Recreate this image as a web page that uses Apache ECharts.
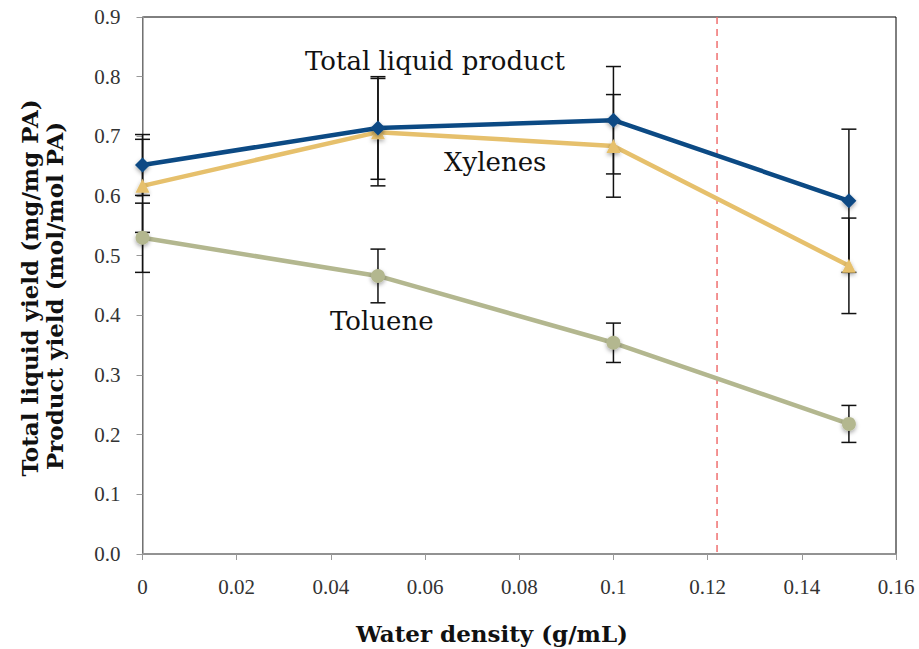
<!DOCTYPE html>
<html><head><meta charset="utf-8">
<script src="https://cdn.jsdelivr.net/npm/echarts@6/dist/echarts.min.js"></script>
<style>html,body{margin:0;padding:0;background:#fff}#c{width:919px;height:649px}</style>
</head><body><div id="c"></div>
<script>
const xValues = [0, 0.05, 0.1, 0.15];
const totalLiquid = [0.652, 0.714, 0.727, 0.592];
const totalLiquidErr = [0.051, 0.086, 0.090, 0.120];
const xylenes = [0.617, 0.707, 0.684, 0.483];
const xylenesErr = [0.078, 0.090, 0.086, 0.080];
const toluene = [0.530, 0.466, 0.354, 0.218];
const tolueneErr = [0.058, 0.045, 0.033, 0.031];
const criticalDensity = [0.122];
const xTicks = {min: 0, max: 0.16, step: 0.02};
const yTicks = {min: 0, max: 0.9, step: 0.1};

const tickFont = 'Liberation Serif';
const textFont = 'DejaVu Serif';
const chart = echarts.init(document.getElementById('c'), null, {renderer: 'svg'});

function pairs(ys) { return xValues.map((x, i) => [x, ys[i]]); }
function errData(ys, es) { return xValues.map((x, i) => [x, ys[i] - es[i], ys[i] + es[i]]); }
function errSeries(ys, es) {
  return {
    type: 'custom', z: 1, silent: true,
    data: errData(ys, es),
    renderItem: function (params, api) {
      const lo = api.coord([api.value(0), api.value(1)]);
      const hi = api.coord([api.value(0), api.value(2)]);
      const w = 7.5;
      const st = {stroke: '#111', lineWidth: 1.5};
      return {type: 'group', children: [
        {type: 'line', shape: {x1: lo[0], y1: lo[1], x2: hi[0], y2: hi[1]}, style: st},
        {type: 'line', shape: {x1: lo[0] - w, y1: lo[1], x2: lo[0] + w, y2: lo[1]}, style: st},
        {type: 'line', shape: {x1: hi[0] - w, y1: hi[1], x2: hi[0] + w, y2: hi[1]}, style: st}
      ]};
    }
  };
}
function lineSeries(name, ys, color, symbol, size) {
  return {
    name: name, type: 'line', data: pairs(ys), z: 3,
    symbol: symbol, symbolSize: size,
    lineStyle: {color: color, width: 4.5},
    itemStyle: {color: color, shadowColor: 'rgba(0,0,0,0.35)', shadowBlur: 4, shadowOffsetY: 2},
    emphasis: {disabled: true}
  };
}

chart.setOption({
  animation: false,
  grid: {left: 142.5, right: 23, top: 17, bottom: 95, show: true, borderColor: '#000', borderWidth: 1},
  xAxis: {
    type: 'value', min: xTicks.min, max: xTicks.max, interval: xTicks.step,
    splitLine: {show: false},
    axisLine: {lineStyle: {color: '#999', width: 1.5}},
    axisTick: {length: 6, lineStyle: {color: '#999'}},
    axisLabel: {color: '#333', fontFamily: tickFont, fontSize: 21, margin: 22}
  },
  yAxis: {
    type: 'value', min: yTicks.min, max: yTicks.max, interval: yTicks.step,
    splitLine: {show: false},
    axisLine: {show: true, lineStyle: {color: '#999', width: 1.5}},
    axisTick: {show: true, length: 6, lineStyle: {color: '#999'}},
    axisLabel: {color: '#333', fontFamily: tickFont, fontSize: 21, margin: 22,
      formatter: v => v.toFixed(1)}
  },
  series: [
    {
      type: 'custom', z: 0, silent: true,
      data: criticalDensity.map(x => [x]),
      renderItem: function (params, api) {
        const top = api.coord([api.value(0), yTicks.max]);
        const bot = api.coord([api.value(0), yTicks.min]);
        return {type: 'line', shape: {x1: top[0], y1: top[1], x2: bot[0], y2: bot[1]},
          style: {stroke: '#f07070', lineWidth: 1.5, lineDash: [7, 5]}};
      }
    },
    errSeries(totalLiquid, totalLiquidErr),
    errSeries(xylenes, xylenesErr),
    errSeries(toluene, tolueneErr),
    lineSeries('Toluene', toluene, '#b3b78f', 'circle', 14),
    lineSeries('Xylenes', xylenes, '#e6c06c', 'triangle', 14),
    lineSeries('Total liquid product', totalLiquid, '#0c4a84', 'diamond', 15)
  ],
  graphic: [
    {type: 'text', x: 305, y: 61, style: {text: 'Total liquid product', fontFamily: textFont, fontSize: 26, fill: '#111', verticalAlign: 'middle'}},
    {type: 'text', x: 444, y: 162, style: {text: 'Xylenes', fontFamily: textFont, fontSize: 26, fill: '#111', verticalAlign: 'middle'}},
    {type: 'text', x: 330, y: 321, style: {text: 'Toluene', fontFamily: textFont, fontSize: 26, fill: '#111', verticalAlign: 'middle'}},
    {type: 'text', x: 29, y: 288, rotation: Math.PI / 2,
      style: {text: 'Total liquid yield (mg/mg PA)', fontFamily: textFont, fontWeight: 'bold', fontSize: 23, fill: '#111', align: 'center', verticalAlign: 'middle'}},
    {type: 'text', x: 54, y: 296, rotation: Math.PI / 2,
      style: {text: 'Product yield (mol/mol PA)', fontFamily: textFont, fontWeight: 'bold', fontSize: 23, fill: '#111', align: 'center', verticalAlign: 'middle'}},
    {type: 'text', x: 492, y: 633,
      style: {text: 'Water density (g/mL)', fontFamily: textFont, fontWeight: 'bold', fontSize: 23, fill: '#111', align: 'center', verticalAlign: 'middle'}}
  ]
});
</script>
</body></html>
